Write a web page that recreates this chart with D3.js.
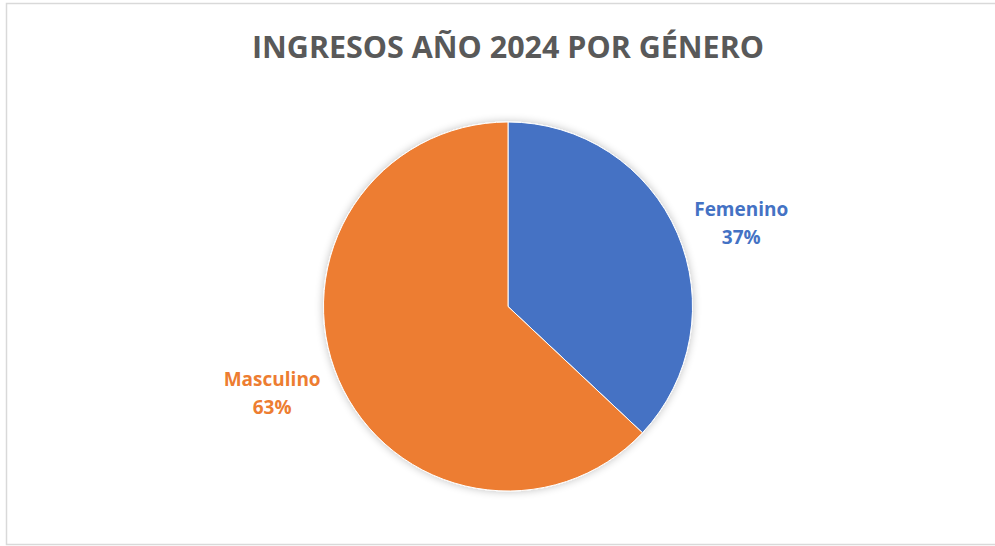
<!DOCTYPE html>
<html>
<head>
<meta charset="utf-8">
<script src="https://cdn.jsdelivr.net/npm/d3@7"></script>
<style>
  html, body { margin: 0; padding: 0; background: #fff; }
  svg { display: block; }
</style>
</head>
<body>
<div id="chart"></div>
<script>
const categories = ['Femenino', 'Masculino'];
const values = [37, 63];
const colors = ['#4472C4', '#ED7D31'];
const title = 'INGRESOS AÑO 2024 POR GÉNERO';

const width = 995, height = 546;
const cx = 508, cy = 306.5, radius = 184.5;
// label distance from the centre, as a share of the radius
const labelDist = [1.345, 1.36];

const svg = d3.select('#chart').append('svg')
        .attr('width', width)
        .attr('height', height);

// chart frame (right side runs past the picture)
svg.append('rect')
        .attr('x', 6.5).attr('y', 3.5)
        .attr('width', 1010).attr('height', 541)
        .attr('fill', '#fff')
        .attr('stroke', '#D9D9D9')
        .attr('stroke-width', 1.5);

svg.append('text')
        .attr('x', 508).attr('y', 58)
        .attr('text-anchor', 'middle')
        .attr('textLength', 512)
        .attr('lengthAdjust', 'spacingAndGlyphs')
        .attr('fill', '#595959')
        .style('font-family', '"Open Sans", sans-serif')
        .style('font-weight', 700)
        .style('font-size', '30px')
        .text(title);

const defs = svg.append('defs');
const shadow = defs.append('filter').attr('id', 'soft')
        .attr('x', '-20%').attr('y', '-20%').attr('width', '140%').attr('height', '140%');
shadow.append('feGaussianBlur').attr('in', 'SourceAlpha').attr('stdDeviation', 4);
shadow.append('feOffset').attr('dx', 0).attr('dy', 0).attr('result', 'blur');
shadow.append('feComponentTransfer').append('feFuncA').attr('type', 'linear').attr('slope', 0.25);
const merge = shadow.append('feMerge');
merge.append('feMergeNode');
merge.append('feMergeNode').attr('in', 'SourceGraphic');

const pie = d3.pie().sort(null).value(d => d);
const arcs = pie(values);
const arc = d3.arc().innerRadius(0).outerRadius(radius);

const g = svg.append('g').attr('transform', `translate(${cx},${cy})`);
g.append('g').attr('filter', 'url(#soft)')
        .selectAll('path')
        .data(arcs)
        .join('path')
        .attr('d', arc)
        .attr('fill', (d, i) => colors[i])
        .attr('stroke', '#fff')
        .attr('stroke-width', 1);

// labels sit outside the pie, nudged a little clockwise like Excel's best fit
const labels = g.selectAll('text.lbl')
        .data(arcs)
        .join('text')
        .attr('class', 'lbl')
        .attr('text-anchor', 'middle')
        .attr('fill', (d, i) => colors[i])
        .style('font-family', '"Open Sans", sans-serif')
        .style('font-weight', 700)
        .style('font-size', '19px');

labels.each(function(d, i) {
        const a = (d.startAngle + d.endAngle) / 2 + 0.06;
        const r = radius * labelDist[i];
        const x = r * Math.sin(a), y = -r * Math.cos(a);
        const t = d3.select(this);
        t.append('tspan').attr('x', x).attr('y', y - 6).text(categories[i]);
        t.append('tspan').attr('x', x).attr('y', y + 22).text(Math.round(d.value) + '%');
});
</script>
</body>
</html>
